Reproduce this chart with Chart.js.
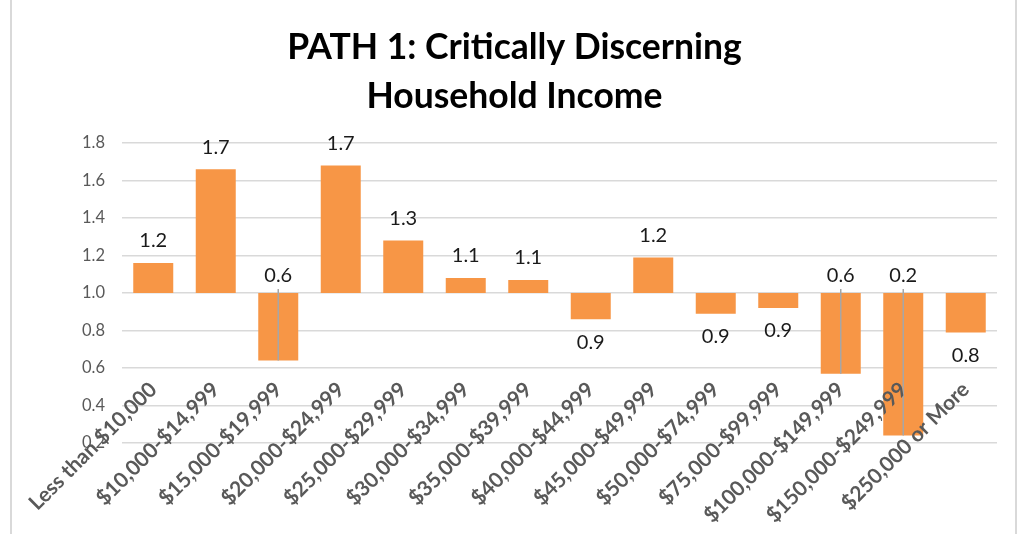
<!DOCTYPE html>
<html>
<head>
<meta charset="utf-8">
<script src="https://cdn.jsdelivr.net/npm/chart.js@4/dist/chart.umd.min.js"></script>
<style>
  body { margin: 0; background: #fff; }
  #frame { position: absolute; left: 10px; top: 0; width: 1003px; height: 534px; border-left: 2px solid #d9d9d9; border-right: 2px solid #d9d9d9; }
  #wrap { position: absolute; left: 0; top: 0; width: 1019px; height: 534px; }
</style>
</head>
<body>
<div id="frame"></div>
<div id="wrap"><canvas id="income-chart"></canvas></div>
<script>
const categories = [
  'Less than $10,000', '$10,000-$14,999', '$15,000-$19,999', '$20,000-$24,999',
  '$25,000-$29,999', '$30,000-$34,999', '$35,000-$39,999', '$40,000-$44,999',
  '$45,000-$49,999', '$50,000-$74,999', '$75,000-$99,999', '$100,000-$149,999',
  '$150,000-$249,999', '$250,000 or More'
]
const indexValues = [1.16, 1.66, 0.64, 1.68, 1.28, 1.08, 1.07, 0.86, 1.19, 0.89, 0.92, 0.57, 0.24, 0.79]
const baseline = 1.0
const yTicks = [0.2, 0.4, 0.6, 0.8, 1.0, 1.2, 1.4, 1.6, 1.8]
// labels that were moved up next to the 1.0 line (drawn with a leader line)
const movedLabels = [2, 11, 12]

const FONT = 'Lato, "Open Sans", sans-serif'

// data labels, leader lines and the slanted category labels
const valueLabels = {
  id: 'valueLabels',
  afterDatasetsDraw (chart) {
    const ctx = chart.ctx
    const meta = chart.getDatasetMeta(0)
    const yScale = chart.scales.y
    const xScale = chart.scales.x
    const basePx = yScale.getPixelForValue(baseline)
    ctx.save()
    ctx.font = '20px ' + FONT
    ctx.fillStyle = '#1a1a1a'
    ctx.textAlign = 'center'
    ctx.textBaseline = 'middle'
    meta.data.forEach((bar, i) => {
      const v = indexValues[i]
      const endPx = yScale.getPixelForValue(v)
      let y
      if (movedLabels.includes(i)) {
        y = basePx - 17
        ctx.strokeStyle = '#a6a6a6'
        ctx.lineWidth = 1.5
        ctx.beginPath()
        ctx.moveTo(bar.x, y + 13)
        ctx.lineTo(bar.x, endPx)
        ctx.stroke()
      } else if (v >= baseline) {
        y = endPx - 22
      } else {
        y = endPx + 23
      }
      ctx.fillText(v.toFixed(1), bar.x, y)
    })

    // category labels sit inside the plot, over the bars
    ctx.font = 'bold 21px ' + FONT
    ctx.fillStyle = '#595959'
    ctx.textAlign = 'right'
    ctx.textBaseline = 'middle'
    const labelY = chart.chartArea.bottom - 57
    categories.forEach((c, i) => {
      ctx.save()
      ctx.translate(xScale.getPixelForValue(i), labelY)
      ctx.rotate(-Math.PI / 4)
      ctx.fillText(c, 0, 0)
      ctx.restore()
    })
    ctx.restore()
  }
}

const ctx = document.getElementById('income-chart').getContext('2d')
new Chart(ctx, {
  type: 'bar',
  data: {
    labels: categories,
    datasets: [{
      data: indexValues.map(v => [baseline, v]),
      backgroundColor: '#f79646',
      borderWidth: 0,
      categoryPercentage: 1,
      barPercentage: 0.64
    }]
  },
  options: {
    responsive: true,
    maintainAspectRatio: false,
    animation: false,
    layout: { padding: { left: 32, right: 22, top: 0, bottom: 91 } },
    plugins: {
      legend: { display: false },
      tooltip: { enabled: false },
      title: {
        display: true,
        text: ['PATH 1: Critically Discerning', 'Household Income'],
        color: '#000',
        font: { family: FONT, size: 35.5, weight: 'bold', lineHeight: 49 / 35.5 },
        padding: { top: 23, bottom: 22 }
      }
    },
    scales: {
      x: {
        grid: { display: false, drawTicks: false },
        border: { display: false },
        ticks: { display: false }
      },
      y: {
        min: yTicks[0],
        max: yTicks[yTicks.length - 1],
        afterBuildTicks (scale) {
          scale.ticks = yTicks.map(v => ({ value: v }))
        },
        afterFit (scale) {
          scale.width = 90
        },
        grid: { color: '#d9d9d9', lineWidth: 1.5, drawTicks: false },
        border: { display: false },
        ticks: {
          padding: 17,
          color: '#595959',
          font: { family: FONT, size: 16.5 },
          callback: v => Number(v).toFixed(1)
        }
      }
    }
  },
  plugins: [valueLabels]
})
</script>
</body>
</html>
